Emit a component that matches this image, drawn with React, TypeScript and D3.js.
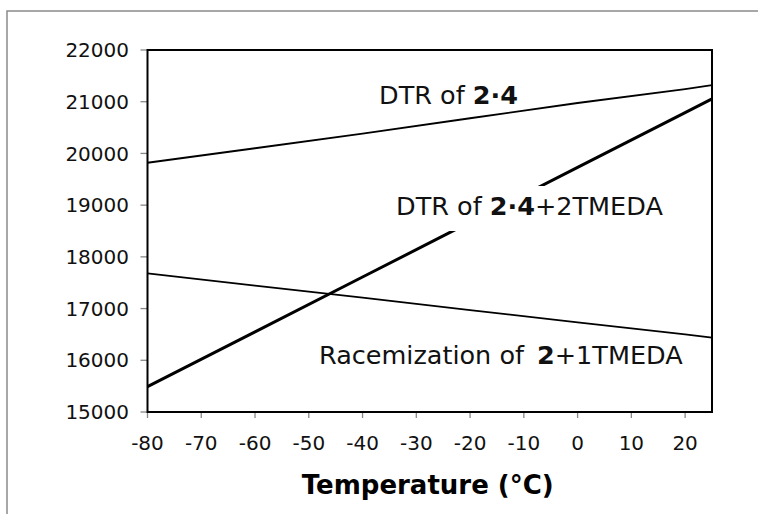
import React from "react";
import * as d3 from "d3";

const temps = [-80, -60, -40, -20, 0, 20, 25];
const dtr24 = [19820, 20100, 20385, 20680, 20975, 21245, 21320];
const dtr24Tmeda = [15490, 16550, 17610, 18670, 19730, 20790, 21055];
const racemization = [17682, 17445, 17210, 16970, 16735, 16500, 16440];

const xTicks = [-80, -70, -60, -50, -40, -30, -20, -10, 0, 10, 20];
const yTicks = [15000, 16000, 17000, 18000, 19000, 20000, 21000, 22000];

const W = 758;
const H = 514;
const left = 147.5;
const right = 712;
const top = 50;
const bottom = 412;

export default function App() {
  const x = d3.scaleLinear().domain([-80, 25]).range([left, right]);
  const y = d3.scaleLinear().domain([15000, 22000]).range([bottom, top]);
  const line = d3
    .line<[number, number]>()
    .x((d) => x(d[0]))
    .y((d) => y(d[1]));
  const pts = (vals: number[]) => temps.map((t, i) => [t, vals[i]] as [number, number]);
  const font = "'DejaVu Sans', Verdana, sans-serif";
  const lf = 25.5;

  return (
    <svg
      width={W}
      height={H}
      style={{ position: "absolute", left: 0, top: 0, background: "#fff" }}
      fontFamily={font}
    >
      <rect x={0} y={0} width={W} height={H} fill="#fff" />
      <rect x={7} y={11} width={W + 50} height={H + 50} fill="none" stroke="#8a8a8a" strokeWidth={1.5} />

      {/* ticks */}
      {yTicks.map((v) => (
        <g key={"y" + v}>
          <line x1={left - 7} x2={left} y1={y(v)} y2={y(v)} stroke="#888" strokeWidth={1.3} />
          <text x={129} y={y(v)} dy="0.36em" textAnchor="end" fontSize={20} fill="#111">
            {v}
          </text>
        </g>
      ))}
      {xTicks.map((v) => (
        <g key={"x" + v}>
          <line x1={x(v)} x2={x(v)} y1={bottom} y2={bottom + 6} stroke="#888" strokeWidth={1.3} />
          <text x={x(v)} y={450} textAnchor="middle" fontSize={20} fill="#111">
            {v}
          </text>
        </g>
      ))}

      {/* series */}
      <path d={line(pts(dtr24)) || ""} fill="none" stroke="#000" strokeWidth={1.8} />
      <path d={line(pts(racemization)) || ""} fill="none" stroke="#000" strokeWidth={1.8} />
      <path d={line(pts(dtr24Tmeda)) || ""} fill="none" stroke="#000" strokeWidth={3} />

      {/* plot frame */}
      <rect x={left} y={top} width={right - left} height={bottom - top} fill="none" stroke="#000" strokeWidth={2} />

      {/* labels */}
      <text x={379} y={104} fontSize={lf} fill="#111">
        DTR of <tspan fontWeight="bold">2·4</tspan>
      </text>
      <rect x={390} y={186} width={285} height={45} fill="#fff" />
      <text x={396} y={215} fontSize={lf} fill="#111">
        DTR of <tspan fontWeight="bold">2·4</tspan>+2TMEDA
      </text>
      <text x={319} y={364} fontSize={lf} fill="#111">
        <tspan>Racemization of</tspan>
        <tspan x={537} fontWeight="bold">2</tspan>
        <tspan>+1TMEDA</tspan>
      </text>

      <text x={(left + right) / 2 - 2} y={494} textAnchor="middle" fontSize={26} fontWeight="bold" fill="#000">
        Temperature (°C)
      </text>
    </svg>
  );
}
